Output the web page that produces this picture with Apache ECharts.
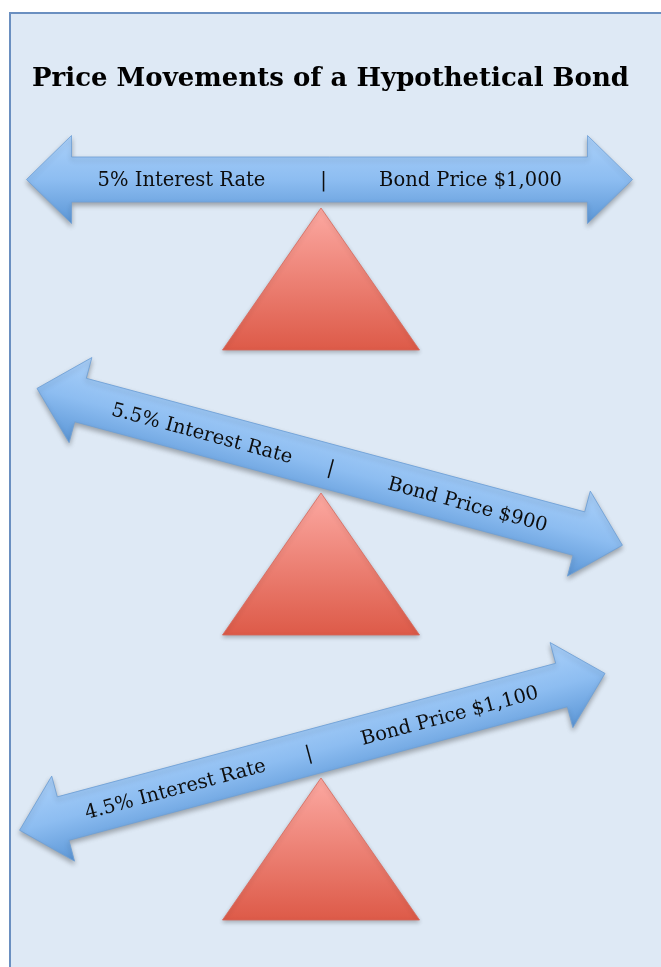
<!DOCTYPE html>
<html>
<head>
<meta charset="utf-8">
<title>Price Movements of a Hypothetical Bond</title>
<script src="https://cdn.jsdelivr.net/npm/echarts@6/dist/echarts.min.js"></script>
<style>
  html, body { margin: 0; padding: 0; background: #fff; }
  #main { width: 661px; height: 967px; }
</style>
</head>
<body>
<div id="main"></div>
<script>
// scenarios, top to bottom
const scenarios = ["base", "rates up", "rates down"];
const interestRates = [5, 5.5, 4.5];       // %
const bondPrices = [1000, 900, 1100];       // $
const beamTilt = [0, -15, 15];              // degrees, + = right end up

// layout (pixels)
const FULCRUM_X = 321;
const BEAM_LEN = 606, HEAD_LEN = 45, HEAD_HALF = 44, SHAFT_HALF = 22.5;
const BEAM_SHIFT = [8.5, 9, -9];  // beam centre offset along the beam
const BEAM_GAP = 28.5;             // apex -> beam centre line
const TRI_W = 197, TRI_H = 142;
// label offsets from beam centre, along the beam
const LEFT_OFF = [-148, -132, -142];
const SEP_OFF = [-6, 1.5, -4];
const RIGHT_OFF = [141, 143, 142];

const chart = echarts.init(document.getElementById("main"), null, { renderer: "canvas" });

function arrowPoints(cx) {
  const h = BEAM_LEN / 2, b = h - HEAD_LEN;
  return [
    [cx - h, 0], [cx - b, -HEAD_HALF], [cx - b, -SHAFT_HALF],
    [cx + b, -SHAFT_HALF], [cx + b, -HEAD_HALF], [cx + h, 0],
    [cx + b, HEAD_HALF], [cx + b, SHAFT_HALF],
    [cx - b, SHAFT_HALF], [cx - b, HEAD_HALF]
  ];
}

function label(text, x) {
  return {
    type: "text",
    style: {
      text: text, x: x, y: 1.5,
      align: "center", verticalAlign: "middle",
      fontFamily: "DejaVu Serif", fontSize: 19.5, fill: "#0d0d0d"
    }
  };
}

function renderItem(params, api) {
  const i = params.dataIndex;
  const apex = api.coord([api.value(0), api.value(1)]);
  const tilt = api.value(2);
  const rate = interestRates[i];
  const price = bondPrices[i];
  const c = BEAM_SHIFT[i];

  const beam = {
    type: "group",
    x: apex[0],
    y: apex[1] - BEAM_GAP,
    rotation: tilt * Math.PI / 180,
    children: [
      {
        type: "polygon",
        shape: { points: arrowPoints(c) },
        style: {
          fill: new echarts.graphic.LinearGradient(0, 0, 0, 1, [
            { offset: 0, color: "#abd1fa" },
            { offset: 0.5, color: "#8dbdf1" },
            { offset: 1, color: "#5b96d6" }
          ]),
          stroke: "#6fa0d6",
          lineWidth: 0.8,
          shadowBlur: 5,
          shadowOffsetY: 3,
          shadowColor: "rgba(0,0,0,0.3)"
        }
      },
      label(rate + "% Interest Rate", c + LEFT_OFF[i]),
      label("|", c + SEP_OFF[i]),
      label("Bond Price $" + price.toLocaleString("en-US"), c + RIGHT_OFF[i])
    ]
  };

  const fulcrum = {
    type: "polygon",
    shape: {
      points: [
        [apex[0], apex[1]],
        [apex[0] + TRI_W / 2, apex[1] + TRI_H],
        [apex[0] - TRI_W / 2, apex[1] + TRI_H]
      ]
    },
    style: {
      fill: new echarts.graphic.LinearGradient(0, 0, 0, 1, [
        { offset: 0, color: "#fca9a2" },
        { offset: 1, color: "#dd5a48" }
      ]),
      stroke: "#d8675a",
      lineWidth: 0.8,
      shadowBlur: 4,
      shadowOffsetY: 2,
      shadowColor: "rgba(0,0,0,0.25)"
    }
  };

  return { type: "group", children: [beam, fulcrum] };
}

const seriesData = scenarios.map((s, i) => [FULCRUM_X, s, beamTilt[i]]);

chart.setOption({
  animation: false,
  backgroundColor: "#ffffff",
  graphic: [
    {
      type: "rect",
      z: -10,
      shape: { x: 10, y: 13, width: 700, height: 1000 },
      style: { fill: "#dee9f5", stroke: "#6a8fc0", lineWidth: 2 }
    }
  ],
  title: {
    text: "Price Movements of a Hypothetical Bond",
    left: "center",
    top: 61,
    textStyle: {
      fontFamily: "DejaVu Serif",
      fontWeight: "bold",
      fontSize: 26,
      color: "#000"
    }
  },
  grid: { left: 0, right: 0, top: 65.5, bottom: 46.5 },
  xAxis: { type: "value", min: 0, max: 661, show: false },
  yAxis: { type: "category", data: scenarios, inverse: true, show: false },
  series: [
    {
      type: "custom",
      renderItem: renderItem,
      data: seriesData,
      encode: { x: 0, y: 1 }
    }
  ]
});
</script>
</body>
</html>
